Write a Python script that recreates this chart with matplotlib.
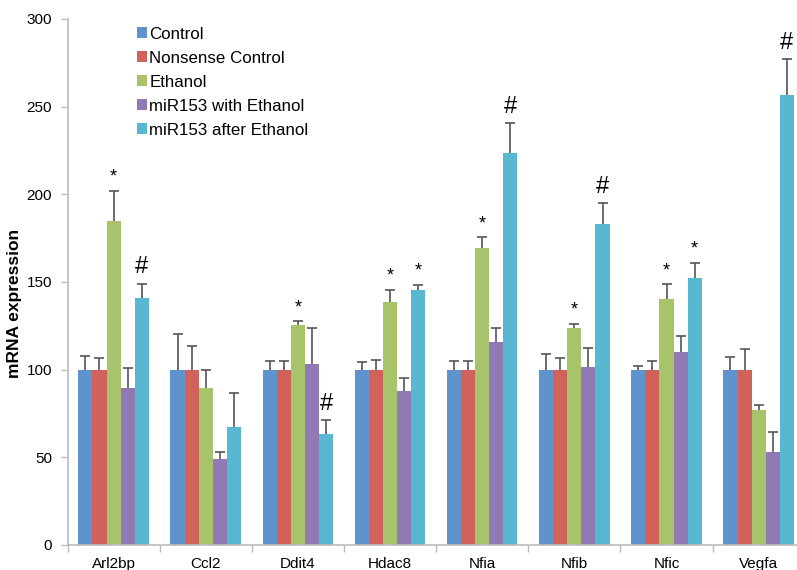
import numpy as np
import matplotlib
matplotlib.use("Agg")
import matplotlib.pyplot as plt
from matplotlib.ticker import FixedLocator

plt.rcParams["font.family"] = ["Liberation Sans", "DejaVu Sans"]

genes = ["Arl2bp", "Ccl2", "Ddit4", "Hdac8", "Nfia", "Nfib", "Nfic", "Vegfa"]
series = ["Control", "Nonsense Control", "Ethanol",
          "miR153 with Ethanol", "miR153 after Ethanol"]
colors = ["#5F93CB", "#D0625B", "#A8C46B", "#9179B3", "#58B8D1"]

# bar heights, one list per series
control = [100, 100, 100, 100, 100, 100, 100, 100]
nonsense = [100, 100, 100, 100, 100, 100, 100, 100]
ethanol = [184.8, 89.4, 125.5, 138.6, 169.5, 123.6, 140.3, 77.0]
mir_with = [89.6, 49.0, 103.4, 88.0, 116.0, 101.4, 110.2, 52.9]
mir_after = [141.0, 67.3, 63.5, 145.3, 223.6, 182.9, 152.5, 256.4]

# upper error (absolute top of whisker)
control_err = [108.0, 120.4, 105.1, 104.2, 105.0, 109.0, 101.8, 107.2]
nonsense_err = [106.7, 113.7, 104.8, 105.3, 105.0, 106.4, 105.0, 112.0]
ethanol_err = [202.0, 99.6, 127.6, 145.6, 175.5, 126.0, 148.7, 79.8]
mir_with_err = [100.8, 52.9, 124.0, 95.4, 123.6, 112.2, 119.2, 64.3]
mir_after_err = [149.0, 86.9, 71.3, 148.3, 240.6, 194.8, 160.9, 277.2]

# significance marks: (gene index, series index, symbol)
marks = [(0, 2, "*"), (0, 4, "#"), (2, 2, "*"), (2, 4, "#"),
         (3, 2, "*"), (3, 4, "*"), (4, 2, "*"), (4, 4, "#"),
         (5, 2, "*"), (5, 4, "#"), (6, 2, "*"), (6, 4, "*"), (7, 4, "#")]

values = [control, nonsense, ethanol, mir_with, mir_after]
tops = [control_err, nonsense_err, ethanol_err, mir_with_err, mir_after_err]

fig = plt.figure(figsize=(7.97, 5.70), dpi=100)
ax = fig.add_axes([0.0847, 0.0439, 0.925, 0.9228])

x = np.arange(len(genes))
w = 0.153
for k, (name, col) in enumerate(zip(series, colors)):
    xs = x + (k - 2) * w
    ax.bar(xs, values[k], width=w, color=col, label=name, zorder=2)
    ax.vlines(xs, values[k], tops[k], color="#555555", linewidth=1.2, zorder=3)
    ax.plot(xs, tops[k], linestyle="none", marker="_", markersize=7,
            markeredgewidth=1.2, color="#555555", zorder=3)

for gi, si, sym in marks:
    xm = x[gi] + (si - 2) * w
    if sym == "*":
        ax.text(xm, tops[si][gi] + 3, sym, ha="center", va="bottom", fontsize=13)
    else:
        ax.text(xm, tops[si][gi] + 3, sym, ha="center", va="bottom", fontsize=17)

ax.set_xlim(-0.5, len(genes) - 0.5)
ax.set_ylim(0, 300)
ax.set_yticks(np.arange(0, 301, 50))
ax.set_xticks(x)
ax.set_xticklabels(genes, fontsize=11)
ax.xaxis.set_minor_locator(FixedLocator(np.arange(-0.5, len(genes) + 0.5, 1)))
ax.tick_params(axis="x", which="major", length=0, pad=9)
ax.tick_params(axis="x", which="minor", length=5, color="#BBBBBB", width=1)
ax.tick_params(axis="y", length=5, color="#BBBBBB", width=1, labelsize=11, pad=6)

for side in ["top", "right"]:
    ax.spines[side].set_visible(False)
for side in ["left", "bottom"]:
    ax.spines[side].set_color("#BBBBBB")
    ax.spines[side].set_linewidth(1.2)

ax.set_ylabel("mRNA expression", fontsize=12.5, fontweight="bold")
ax.yaxis.set_label_coords(-0.062, 0.46)

ax.legend(loc="upper left", bbox_to_anchor=(0.079, 1.006), frameon=False,
          fontsize=12.2, handlelength=0.6, handleheight=0.6, handletextpad=0.15,
          labelspacing=0.53, borderaxespad=0.25)

fig.savefig("out.png", dpi=100)
